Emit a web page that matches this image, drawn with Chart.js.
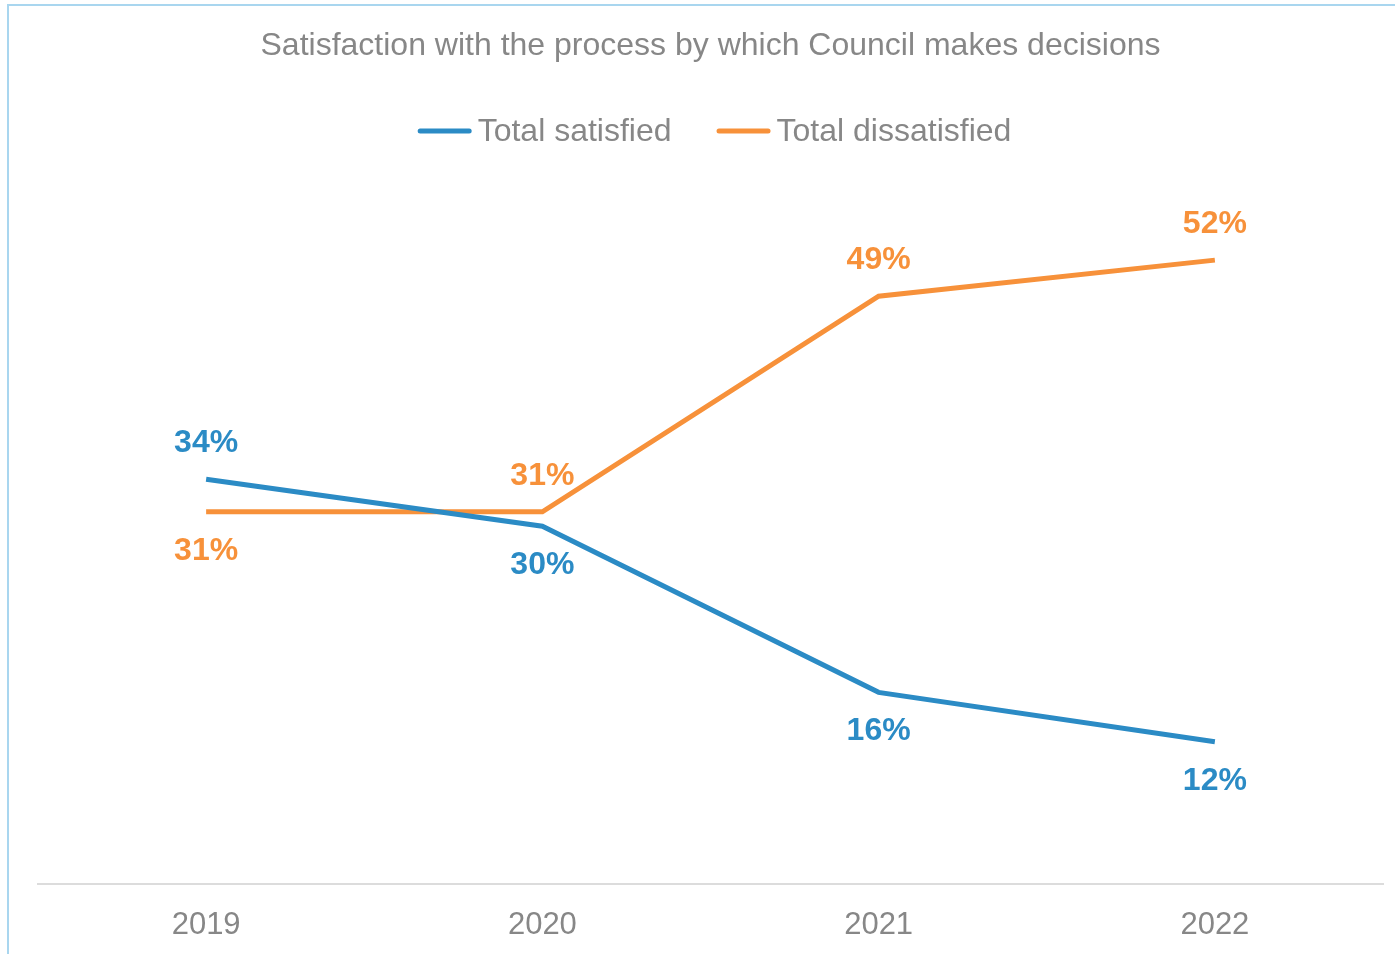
<!DOCTYPE html>
<html>
<head>
<meta charset="utf-8">
<script src="https://cdn.jsdelivr.net/npm/chart.js@4.4.0/dist/chart.umd.min.js"></script>
<style>
  html, body { margin: 0; padding: 0; background: #ffffff; overflow: hidden; }
  #frame {
    position: absolute; left: 7px; top: 4px; width: 1500px; height: 1100px;
    border-left: 2px solid #a9d6ef; border-top: 2px solid #a9d6ef;
  }
  #wrap { position: absolute; left: 0; top: 0; width: 1395px; height: 959px; }
</style>
</head>
<body>
<div id="frame"></div>
<div id="wrap"><canvas id="line-chart"></canvas></div>
<script>
// Data stuff
const years = ["2019", "2020", "2021", "2022"];
const satisfied = [33.6, 29.7, 15.9, 11.8];
const dissatisfied = [30.9, 30.9, 48.8, 51.8];

const blue = "#2b8bc5";
const orange = "#f7913a";
const grey = "#878787";
const fontFam = "'Liberation Sans', Arial, sans-serif";

Chart.defaults.font.family = fontFam;
Chart.defaults.color = grey;

// % labels, above the point if that series is the higher one there
const pointLabels = {
    id: "pointLabels",
    afterDatasetsDraw(chart) {
        const ctx = chart.ctx;
        ctx.save();
        ctx.font = "bold 32px " + fontFam;
        ctx.textAlign = "center";
        ctx.textBaseline = "middle";
        chart.data.datasets.forEach((ds, di) => {
            const other = chart.data.datasets[1 - di];
            chart.getDatasetMeta(di).data.forEach((pt, i) => {
                const above = ds.data[i] >= other.data[i];
                ctx.fillStyle = ds.borderColor;
                ctx.fillText(Math.round(ds.data[i]) + "%", pt.x, above ? pt.y - 36 : pt.y + 39);
            });
        });
        ctx.restore();
    }
};

// legend drawn by hand so the line sits right next to the text
const lineLegend = {
    id: "lineLegend",
    afterDraw(chart) {
        const ctx = chart.ctx;
        const sample = 54, gap = 6, itemGap = 45, y = 131;
        ctx.save();
        ctx.font = "32px " + fontFam;
        const items = chart.data.datasets.map(ds => ({
            ds: ds, w: sample + gap + ctx.measureText(ds.label).width
        }));
        let total = items.reduce((s, it) => s + it.w, 0) + itemGap * (items.length - 1);
        let x = (chart.chartArea.left + chart.chartArea.right) / 2 - total / 2 + 4;
        items.forEach(it => {
            ctx.strokeStyle = it.ds.borderColor;
            ctx.lineWidth = 5;
            ctx.lineCap = "round";
            ctx.beginPath();
            ctx.moveTo(x + 2.5, y);
            ctx.lineTo(x + sample - 2.5, y);
            ctx.stroke();
            ctx.fillStyle = grey;
            ctx.textAlign = "left";
            ctx.textBaseline = "middle";
            ctx.fillText(it.ds.label, x + sample + gap, y + 1);
            x += it.w + itemGap;
        });
        ctx.restore();
    }
};

new Chart(document.getElementById("line-chart"), {
    type: "line",
    data: {
        labels: years,
        datasets: [
            {
                label: "Total satisfied",
                data: satisfied,
                borderColor: blue,
                backgroundColor: blue,
                borderWidth: 5,
                pointRadius: 0,
                tension: 0
            },
            {
                label: "Total dissatisfied",
                data: dissatisfied,
                borderColor: orange,
                backgroundColor: orange,
                borderWidth: 5,
                pointRadius: 0,
                tension: 0
            }
        ]
    },
    options: {
        responsive: true,
        maintainAspectRatio: false,
        animation: false,
        layout: { padding: { left: 38, right: 12, top: 27, bottom: 0 } },
        plugins: {
            title: {
                display: true,
                text: "Satisfaction with the process by which Council makes decisions",
                color: grey,
                font: { size: 32, weight: "normal" },
                padding: { top: 0, bottom: 96 }
            },
            legend: { display: false },
            tooltip: { enabled: false }
        },
        scales: {
            x: {
                offset: true,
                grid: { display: false },
                border: { display: true, color: "#dcdcdc", width: 2 },
                ticks: { color: grey, font: { size: 31 }, padding: 15 }
            },
            y: {
                display: false,
                min: 0,
                max: 60
            }
        }
    },
    plugins: [pointLabels, lineLegend]
});
</script>
</body>
</html>
